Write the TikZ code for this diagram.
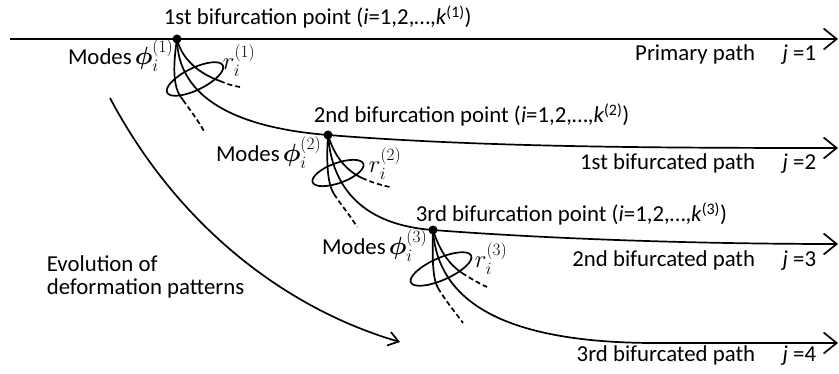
\documentclass[tikz,border=0pt]{standalone}
\usepackage{amsmath,bm}
\usepackage{fontspec}
\setmainfont{Carlito}
\usetikzlibrary{arrows.meta}
\newcommand{\bigmath}[1]{{\fontsize{25pt}{25pt}\selectfont$#1$}}
\begin{document}
\begin{tikzpicture}[x=1pt,y=-1pt, line width=1.7pt,
  every node/.style={font=\fontsize{22.8pt}{23pt}\selectfont, inner sep=0pt},
  dot/.style={circle, fill=black, inner sep=0pt, minimum size=9pt},
  patharrow/.style={-{Straight Barb[length=13pt,width=21pt,line width=1.7pt]}},
  evoarrow/.style={-{Straight Barb[length=10pt,width=14pt,line width=1.7pt]}},
  dashline/.style={dash pattern=on 5pt off 3pt},
  lbl/.style={anchor=base west},
  rlbl/.style={anchor=base east}]
\useasboundingbox (0,0) rectangle (839,374);

% bifurcation points
\node[dot] (p1) at (177,39) {};
\node[dot] (p2) at (328,135) {};
\node[dot] (p3) at (433,230) {};

\coordinate (s0) at (10,39);
\coordinate (e1) at (838,39);
\coordinate (e2) at (838,148);
\coordinate (e3) at (838,244);
\coordinate (e4) at (838,343);

% paths
\draw[patharrow] (s0) -- (e1);
\draw[patharrow] (p1.center) .. controls (178,100) and (240,128) .. (p2.center)
   .. controls (480,147) and (650,148) .. (e2);
\draw[patharrow] (p2.center) .. controls (332,190) and (365,225) .. (p3.center)
   .. controls (550,239) and (700,244) .. (e3);
\draw[patharrow] (p3.center) .. controls (438,310) and (520,342) .. (650,343) -- (e4);

% fan 1
\coordinate (a1) at (183,100); \coordinate (a1e) at (205,133);
\coordinate (b1) at (220,81);  \coordinate (b1e) at (240,87);
\draw (p1.center) .. controls (172,72) and (174,90) .. (a1);
\draw[dashline] (a1) .. controls (190,110) and (198,120) .. (a1e);
\draw (p1.center) .. controls (182,60) and (200,74) .. (b1);
\draw[dashline] (b1) .. controls (227,84) and (233,86) .. (b1e);
\draw[rotate around={26:(195,79)}] (195,79) ellipse [x radius=31pt, y radius=11pt];

% fan 2
\coordinate (a2) at (334,194); \coordinate (a2e) at (357,227);
\coordinate (b2) at (362,178); \coordinate (b2e) at (390,187);
\draw (p2.center) .. controls (326,165) and (328,185) .. (a2);
\draw[dashline] (a2) .. controls (341,205) and (350,215) .. (a2e);
\draw (p2.center) .. controls (334,155) and (345,170) .. (b2);
\draw[dashline] (b2) .. controls (371,182) and (380,185) .. (b2e);
\draw[rotate around={20:(338,173)}] (338,173) ellipse [x radius=27pt, y radius=10pt];

% fan 3
\coordinate (a3) at (438,288); \coordinate (a3e) at (463,323);
\coordinate (b3) at (462,273); \coordinate (b3e) at (487,287);
\draw (p3.center) .. controls (432,260) and (433,280) .. (a3);
\draw[dashline] (a3) .. controls (445,300) and (455,312) .. (a3e);
\draw (p3.center) .. controls (440,252) and (450,265) .. (b3);
\draw[dashline] (b3) .. controls (470,278) and (478,283) .. (b3e);
\draw[rotate around={24:(441,269)}] (441,269) ellipse [x radius=33pt, y radius=11pt];

% evolution arrow
\coordinate (ev0) at (110,98); \coordinate (evE) at (400,342);
\draw[evoarrow] (ev0) .. controls (180,230) and (290,310) .. (evE);

% labels
\node[lbl] (t1) at (163,25) {1st bifurcation point (\textit{i}=1,2,…,\textit{k}\textsuperscript{(1)})};
\node[rlbl] (m1) at (174,65) {Modes\hspace{3pt}\bigmath{\bm{\phi}_i^{(1)}}};
\node[lbl] (r1) at (222,70) {\bigmath{r_i^{(1)}}};
\node[rlbl] (pp) at (756,61) {Primary path};
\node[rlbl] (j1) at (817,61) {\textit{j} =1};

\node[lbl] (t2) at (313,123) {2nd bifurcation point (\textit{i}=1,2,…,\textit{k}\textsuperscript{(2)})};
\node[rlbl] (m2) at (322,162) {Modes\hspace{3pt}\bigmath{\bm{\phi}_i^{(2)}}};
\node[lbl] (r2) at (368,173) {\bigmath{r_i^{(2)}}};
\node[rlbl] (bp1) at (756,170) {1st bifurcated path};
\node[rlbl] (j2) at (817,170) {\textit{j} =2};

\node[lbl] (t3) at (415,222) {3rd bifurcation point (\textit{i}=1,2,…,\textit{k}\textsuperscript{(3)})};
\node[rlbl] (m3) at (428,255) {Modes\hspace{3pt}\bigmath{\bm{\phi}_i^{(3)}}};
\node[lbl] (r3) at (474,268) {\bigmath{r_i^{(3)}}};
\node[rlbl] (bp2) at (756,267) {2nd bifurcated path};
\node[rlbl] (j3) at (817,267) {\textit{j} =3};

\node[rlbl] (bp3) at (756,362) {3rd bifurcated path};
\node[rlbl] (j4) at (817,362) {\textit{j} =4};

\node[lbl] (evA) at (46,272) {Evolution of};
\node[lbl] (evB) at (46,295) {deformation patterns};
\end{tikzpicture}
\end{document}
